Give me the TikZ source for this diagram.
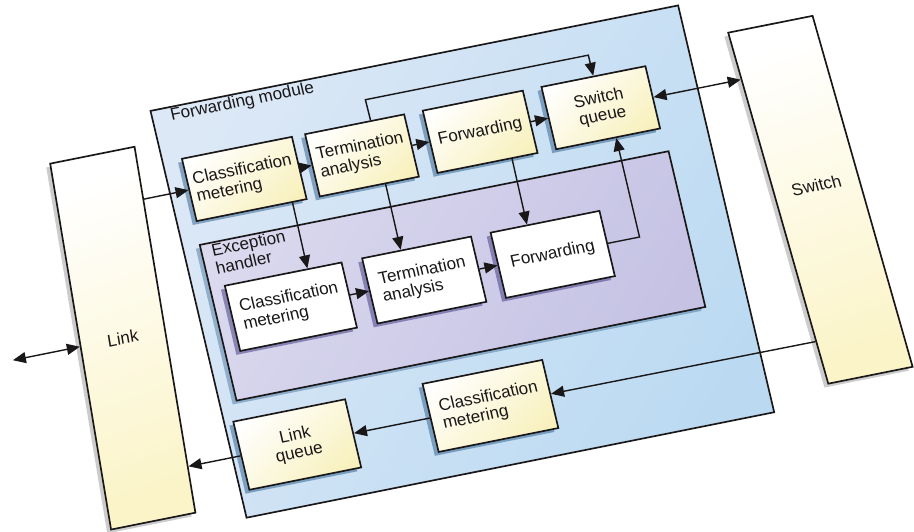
\documentclass[tikz,border=0pt]{standalone}
\usepackage{fontspec}
\setmainfont{Liberation Sans}
\usepackage{tikz}
\usetikzlibrary{arrows.meta,calc,shadows}

\definecolor{modtop}{HTML}{DCE8F6}
\definecolor{modbot}{HTML}{BBDAF2}
\definecolor{exctop}{HTML}{DAD9EE}
\definecolor{excbot}{HTML}{C5C2E4}
\definecolor{boxyel}{HTML}{F8F0BC}
\definecolor{endyel}{HTML}{FBF4C8}
\definecolor{shblue}{HTML}{2A5D8C}
\definecolor{shpurp}{HTML}{3B357F}
\definecolor{ink}{HTML}{1A1718}

\begin{document}
\begin{tikzpicture}[
    font=\fontsize{9.7}{10.4}\selectfont,
    every node/.style={text=ink},
    >={Triangle[length=2.6mm,width=2.2mm]},
    conn/.style={draw=ink, line width=0.8pt},
    blk/.style={draw=ink, line width=0.95pt, align=left},
    module/.style={blk, top color=modtop, bottom color=modbot, shading angle=60},
    handler/.style={blk, top color=exctop, bottom color=excbot, shading angle=60,
      drop shadow={shadow xshift=-2.2pt, shadow yshift=-2.2pt, fill=shblue, opacity=0.4}},
    ybox/.style={blk, top color=white, bottom color=boxyel, shading angle=45,
      drop shadow={shadow xshift=-2.2pt, shadow yshift=-2.2pt, fill=shblue, opacity=0.5}},
    wbox/.style={blk, fill=white,
      drop shadow={shadow xshift=-2.2pt, shadow yshift=-2.2pt, fill=shpurp, opacity=0.5}},
    endbox/.style={blk, top color=white, bottom color=endyel, shading angle=20,
      drop shadow={shadow xshift=-2.2pt, shadow yshift=-2.2pt, fill=black, opacity=0.2}}
  ]
  \useasboundingbox (0,0) rectangle (18.28,10.62);

  % whole block diagram is tilted
  \begin{scope}[cm={0.9807,0.196,-0.2298,0.9732,(2.99,8.415)}, transform shape]

    % line side and switch side
    \node[endbox, xslant=0.067, minimum width=1.72cm, minimum height=7.42cm] (link) at (-1.568,-4.368) {Link};
    \node[endbox, xslant=-0.046, minimum width=1.72cm, minimum height=7.28cm] (sw) at (12.654,-4.388) {\raisebox{0.6cm}{Switch}};

    % forwarding module
    \node[module, anchor=north west, minimum width=10.76cm, minimum height=8.36cm] (fm) at (0,0) {};
    \node[anchor=west] (fmlabel) at (0.26,-0.21) {Forwarding module};

    % exception handler
    \node[handler, minimum width=9.56cm, minimum height=3.2cm] (eh) at (5.14,-4.44) {};
    \node[anchor=north west, align=left, inner sep=0pt] (ehlabel) at (0.56,-2.86) {Exception\\handler};

    % fast path
    \node[ybox, minimum width=2.22cm, minimum height=1.28cm] (cm1) at (1.53,-1.72) {Classification\\metering};
    \node[ybox, minimum width=2.02cm, minimum height=1.28cm] (ta1) at (3.93,-1.72) {Termination\\analysis};
    \node[ybox, minimum width=2.04cm, minimum height=1.28cm] (fw1) at (6.34,-1.72) {Forwarding};
    \node[ybox, minimum width=2.12cm, minimum height=1.28cm, align=center] (sq) at (8.80,-1.72) {Switch\\queue};

    % slow path
    \node[wbox, minimum width=2.38cm, minimum height=1.34cm] (cm2) at (1.85,-4.41) {Classification\\metering};
    \node[wbox, minimum width=2.22cm, minimum height=1.34cm] (ta2) at (4.57,-4.41) {Termination\\analysis};
    \node[wbox, minimum width=2.22cm, minimum height=1.34cm] (fw2) at (7.19,-4.41) {Forwarding};

    % return path
    \node[ybox, minimum width=2.28cm, minimum height=1.40cm, align=center] (lq) at (1.34,-7.14) {Link\\queue};
    \node[ybox, minimum width=2.44cm, minimum height=1.40cm] (cm3) at (5.28,-7.14) {Classification\\metering};

    \coordinate (ext) at (-3.81,-4.37);
    \coordinate (up1) at (4.253,-0.64);
    \coordinate (up2) at (8.80,-0.64);
    \coordinate (back) at (8.96,-4.41);

    % connections
    \draw[conn,<->] (ext) -- (link.west);
    \draw[conn,->] ($(link.north east)!0.145!(link.south east)$) -- (cm1.west);
    \draw[conn,->] (cm1.east) -- (ta1.west);
    \draw[conn,->] (ta1.east) -- (fw1.west);
    \draw[conn,->] (fw1.east) -- (sq.west);
    \draw[conn,->] ($(ta1.north west)!0.66!(ta1.north east)$) -- (up1) -- (up2) -- (sq.north);
    \draw[conn,<->] (sq.east) -- ($(sw.north west)!0.135!(sw.south west)$);

    \draw[conn,->] ($(cm1.south west)!0.865!(cm1.south east)$) -- ($(cm2.north west)!0.706!(cm2.north east)$);
    \draw[conn,->] ($(ta1.south west)!0.66!(ta1.south east)$) -- ($(ta2.north west)!0.358!(ta2.north east)$);
    \draw[conn,->] ($(fw1.south west)!0.74!(fw1.south east)$) -- ($(fw2.north west)!0.338!(fw2.north east)$);
    \draw[conn,->] (cm2.east) -- (ta2.west);
    \draw[conn,->] (ta2.east) -- (fw2.west);
    \draw[conn,->] (fw2.east) -- (back) -- ($(sq.south west)!0.575!(sq.south east)$);

    \draw[conn,->] ($(sw.north west)!0.878!(sw.south west)$) -- (cm3.east);
    \draw[conn,->] (cm3.west) -- (lq.east);
    \draw[conn,->] (lq.west) -- ($(link.north east)!0.872!(link.south east)$);
  \end{scope}
\end{tikzpicture}
\end{document}
